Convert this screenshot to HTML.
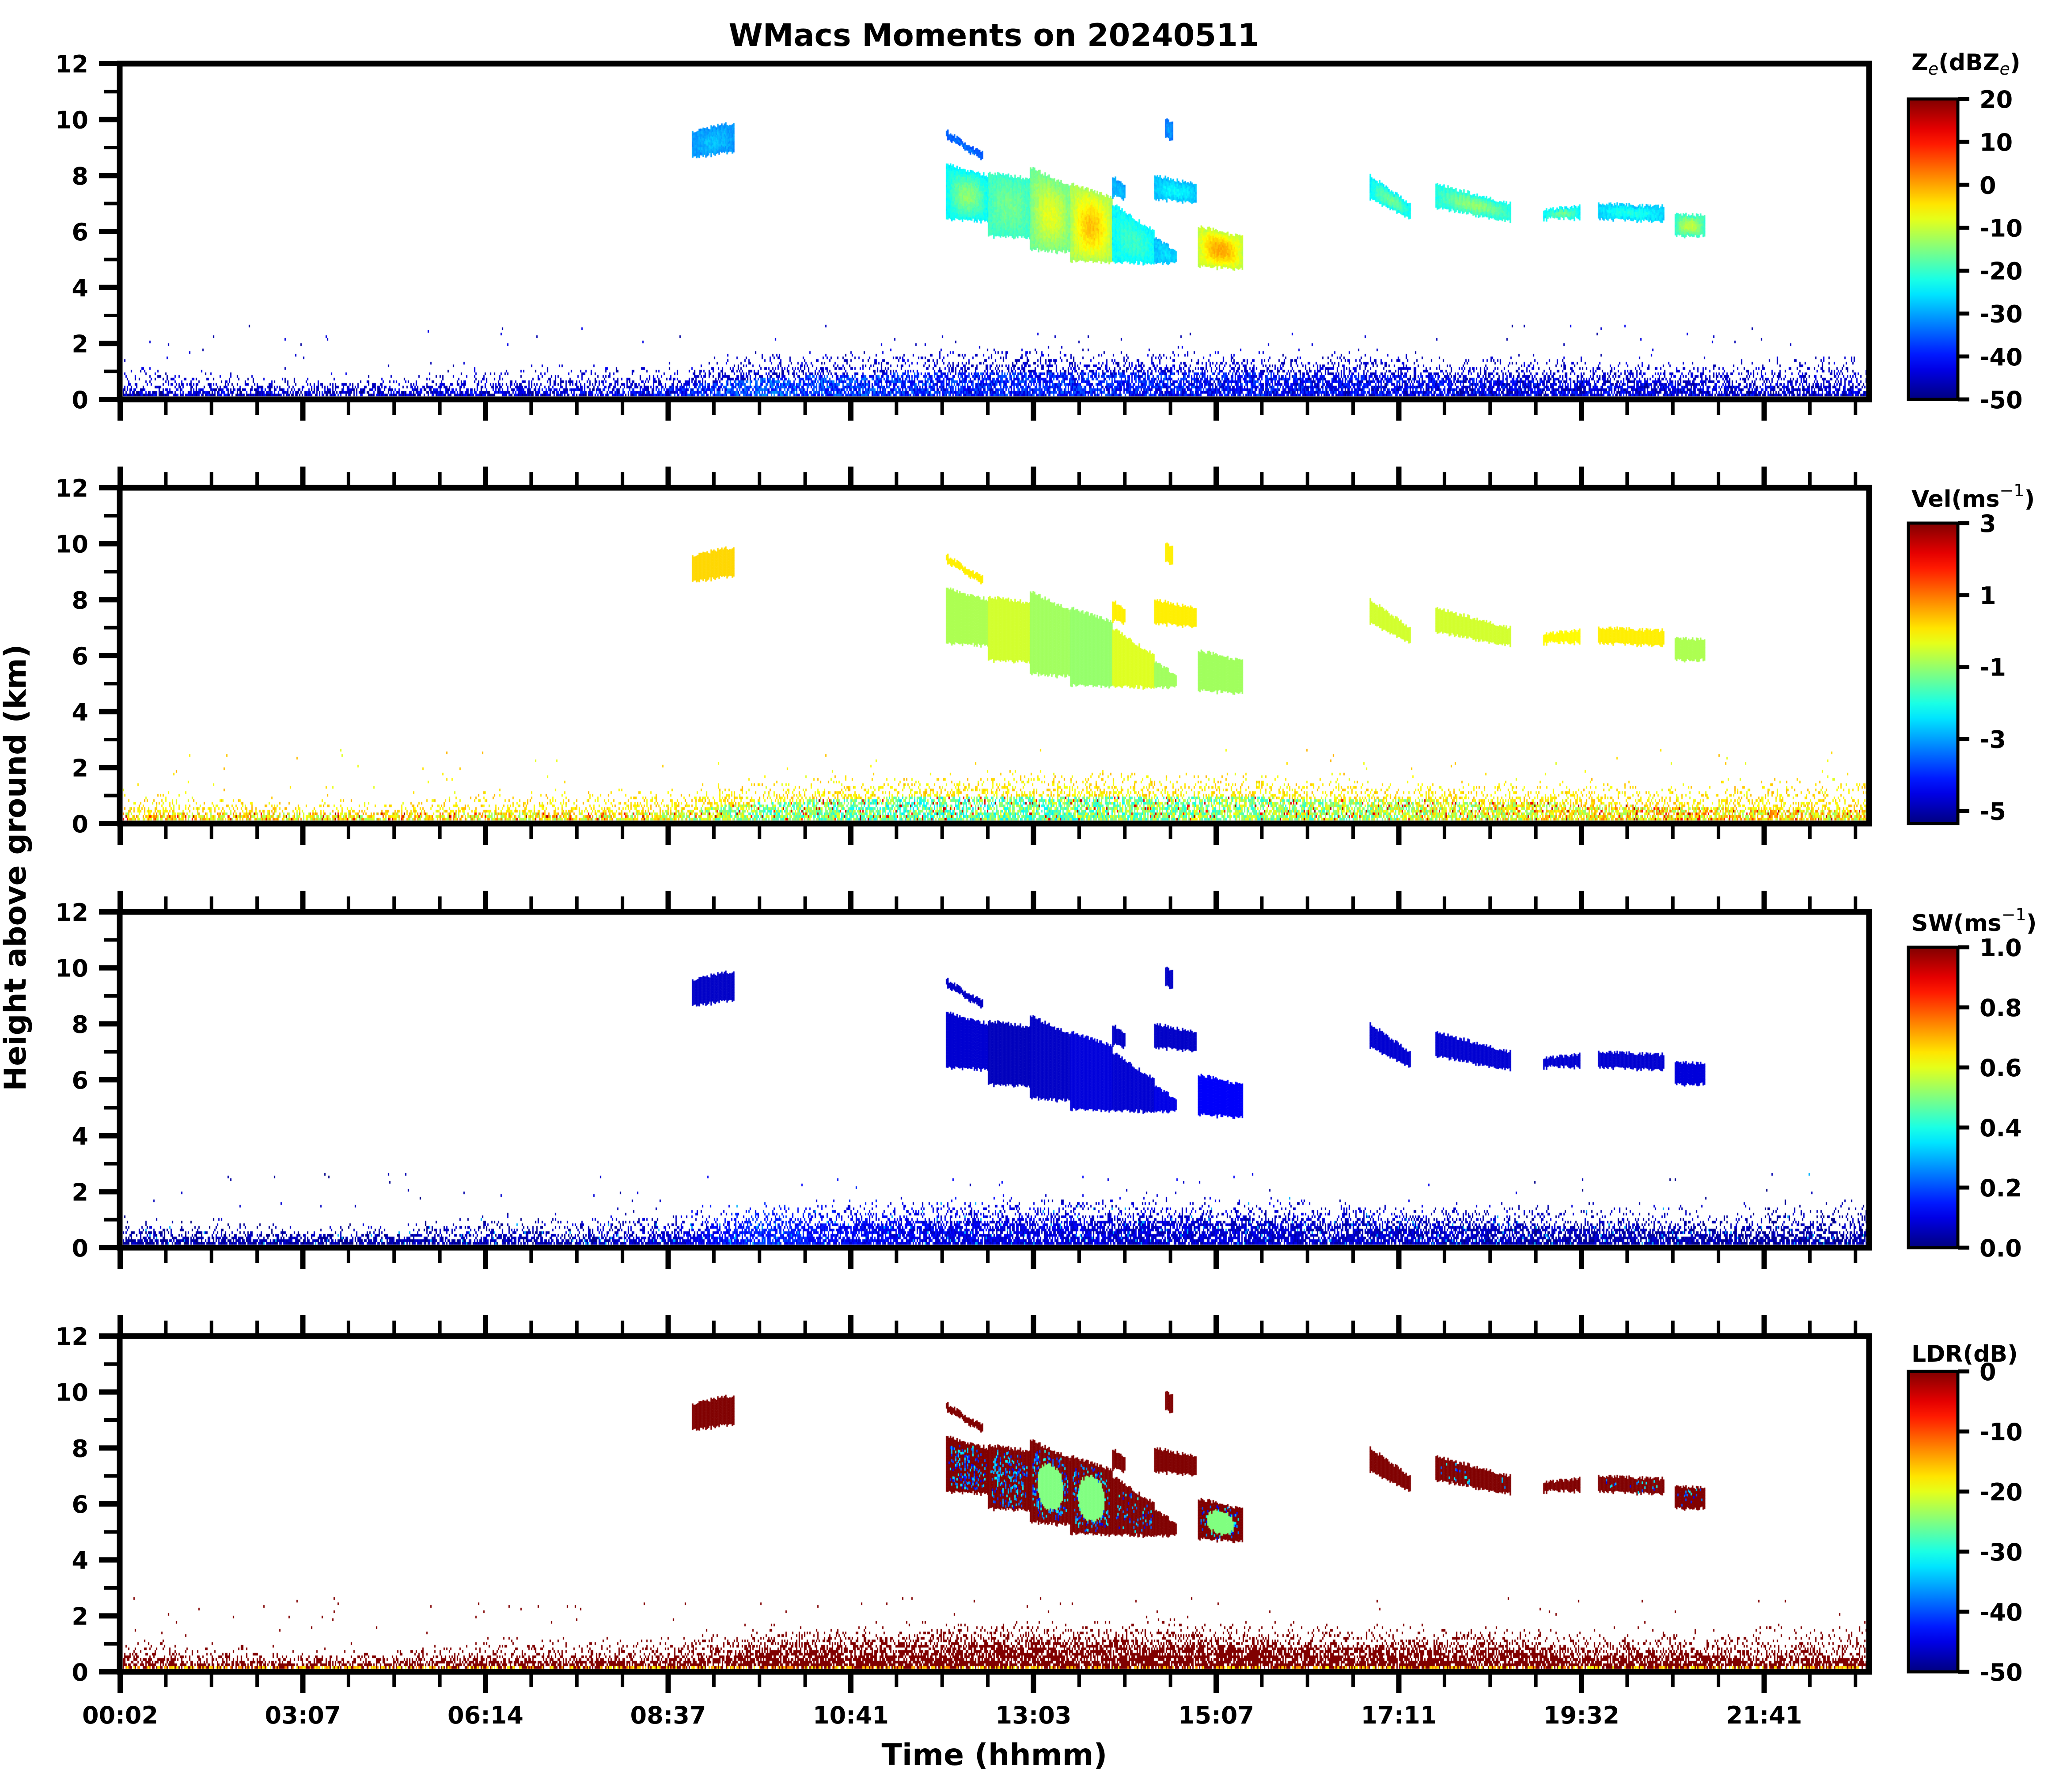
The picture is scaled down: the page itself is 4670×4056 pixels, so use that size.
<!DOCTYPE html>
<html>
<head>
<meta charset="utf-8">
<style>
html,body{margin:0;padding:0;background:#fff;}
#wrap{position:relative;width:4670px;height:4056px;overflow:hidden;background:#fff;}
#heat{position:absolute;left:0;top:0;}
#ov{position:absolute;left:0;top:0;}
text{font-family:"DejaVu Sans","Liberation Sans",sans-serif;font-weight:bold;fill:#000;}
</style>
</head>
<body>
<div id="wrap">
<canvas id="heat" width="4670" height="4056"></canvas>
<svg id="ov" width="4670" height="4056" xmlns="http://www.w3.org/2000/svg"></svg>
</div>
<script>
// ---------- data ----------
const timeTickLabels = ["00:02","03:07","06:14","08:37","10:41","13:03","15:07","17:11","19:32","21:41"];
const heightTicks = [0,2,4,6,8,10,12];
const panelTitles = ["Z<sub>e</sub>(dBZ<sub>e</sub>)","Vel(ms<sup>-1</sup>)","SW(ms<sup>-1</sup>)","LDR(dB)"];
const cbarTicks0 = [20,10,0,-10,-20,-30,-40,-50];
const cbarTicks1 = [3,1,-1,-3,-5];
const cbarTicks2 = ["1.0","0.8","0.6","0.4","0.2","0.0"];
const cbarTicks3 = [0,-10,-20,-30,-40,-50];
const cbarMin = [-50,-5.35,0,-50];
const cbarMax = [20,3,1,0];
// Cloud features: x in thousands of profiles, height in km
const cloudU0   = [3.13,4.52,4.52,4.75,4.98,5.20,5.43,5.66,5.66,5.43,5.90,5.72,6.84,7.20,7.79,8.09,8.51];
const cloudU1   = [3.36,4.72,4.75,4.98,5.20,5.43,5.66,5.78,5.89,5.50,6.14,5.76,7.06,7.61,7.99,8.45,8.67];
const cloudTop0 = [9.6,9.6,8.4,8.1,8.3,7.7,7.0,5.8,8.0,8.0,6.2,10.0,8.0,7.7,6.8,7.0,6.6];
const cloudTop1 = [9.9,8.8,8.0,7.9,7.6,7.2,6.0,5.3,7.7,7.6,5.8,9.9,7.0,7.0,6.9,6.9,6.6];
const cloudBot0 = [8.7,9.4,6.5,5.9,5.4,5.0,4.95,4.95,7.2,7.3,4.8,9.4,7.2,6.9,6.5,6.5,5.9];
const cloudBot1 = [8.9,8.6,6.4,5.8,5.3,4.95,4.9,4.9,7.1,7.2,4.7,9.3,6.5,6.4,6.5,6.4,5.9];
const cloudZe    = [-31,-35,-24,-20,-16,-12,-24,-28,-28,-30,-10,-33,-24,-22,-24,-27,-20];
const cloudZeCore= [-28,-33,-14,-16,-8,-2,-20,-26,-24,-28,0,-30,-16,-14,-16,-22,-10];
const cloudVel   = [0.2,0.0,-0.8,-0.5,-0.9,-1.0,-0.4,-0.9,0.0,0.0,-0.9,0.0,-0.5,-0.5,-0.1,0.0,-0.8];
const cloudSw    = [0.07,0.07,0.08,0.06,0.07,0.09,0.08,0.1,0.07,0.07,0.12,0.07,0.08,0.08,0.08,0.08,0.09];
const cloudLdr   = [0,0,0,0,0,0,0,0,0,0,0,0,0,0,0,0,0];
const cloudLdrCore=[0,0,0,0,-25,-25,0,0,0,0,-25,0,0,0,0,0,0];
const cloudLdrSpeckle=[0,0,0.3,0.3,0.35,0.3,0.15,0,0,0,0.2,0,0,0.05,0,0.1,0.2];
// Boundary layer (sampled every 0.5 thousand profiles, 0..9.5)
const blDense  = [0.3,0.3,0.3,0.3,0.3,0.35,0.4,0.7,0.85,0.9,0.95,0.95,0.9,0.85,0.8,0.75,0.65,0.55,0.45,0.4];
const blSparse = [1.2,1.0,0.8,0.8,1.2,1.2,1.3,1.7,1.7,1.8,1.9,1.9,1.8,1.8,1.7,1.6,1.6,1.5,1.6,1.8];
const blZe     = [-45,-45,-45,-45,-45,-44,-42,-36,-38,-40,-40,-40,-41,-42,-43,-43,-44,-44,-45,-45];
const blVel    = [0.1,0.1,0.1,0.1,0.0,0.0,-0.3,-1.0,-1.3,-1.4,-1.3,-1.1,-1.0,-0.8,-0.6,-0.3,0.0,0.1,0.1,0.1];
const blSw     = [0.04,0.04,0.04,0.04,0.05,0.05,0.07,0.16,0.12,0.1,0.09,0.08,0.08,0.07,0.07,0.06,0.05,0.05,0.04,0.04];
const blLdr    = [0,0,0,0,0,0,0,0,0,0,0,0,0,0,0,0,0,0,0,0];

// ---------- geometry ----------
const X0 = 272, PXU = 413.5, XL = 271, XR = 4231;
const PT = [144,1104,2064,3024], PH = 760, KM = PH/12;
const CBX0 = 4320, CBX1 = 4432, CBOFF = 80, CBH = 680;
const titleY = [159,1147,2107,3082];
function xs(u){return X0 + u*PXU;}
function ys(p,h){return PT[p]+PH - h*KM;}

function jet(t){
  t = Math.max(0,Math.min(1,t));
  const c=v=>Math.round(255*Math.max(0,Math.min(1,v)));
  return [c(1.5-Math.abs(4*t-3)), c(1.5-Math.abs(4*t-2)), c(1.5-Math.abs(4*t-1))];
}
function col(p,v){const a=jet((v-cbarMin[p])/(cbarMax[p]-cbarMin[p]));return "rgb("+a[0]+","+a[1]+","+a[2]+")";}
function hash(a,b){let h=(a*374761393 + b*668265263)|0; h=(h^(h>>>13))*1274126177|0; h=h^(h>>>16); return ((h>>>0)%10000)/10000;}
function interp(arr,u){const i=u/0.5;const i0=Math.max(0,Math.min(arr.length-1,Math.floor(i)));const i1=Math.min(arr.length-1,i0+1);const f=Math.max(0,Math.min(1,i-i0));return arr[i0]*(1-f)+arr[i1]*f;}

// ---------- heatmaps ----------
const ctx = document.getElementById('heat').getContext('2d');
const blArrays = [blZe, blVel, blSw, blLdr];
const blJit = [6, 1.2, 0.05, 0];
const cloudVals = [cloudZe, cloudVel, cloudSw, cloudLdr];
const cloudCores = [cloudZeCore, cloudVel, cloudSw, cloudLdrCore];
const CW = 3, CH = 6;
for (let p=0;p<4;p++){
  const bot = PT[p]+PH-7;
  for (let x=XL+7; x<XR-7; x+=CW){
    const u=(x-X0)/PXU, ci=Math.round(x/CW);
    const dense=interp(blDense,u), sparse=interp(blSparse,u);
    const base=interp(blArrays[p],u);
    for (let y=bot; y>ys(p,2.6); y-=CH){
      const h=(PT[p]+PH-y)/KM, ri=Math.round(y/CH);
      let prob;
      if (h<dense) prob=0.9-0.3*(h/dense);
      else if (h<sparse) prob=0.45*Math.pow(1-(h-dense)/(sparse-dense),1.6)+0.02;
      else prob=0.004;
      if (hash(ci,ri) < prob){
        const r=hash(ci+999,ri+p);
        let v = base + (r-0.5)*2*blJit[p];
        if (p===1){
          if (h>dense) v = -0.4 + hash(ci,y)*0.9;
          else if (r>0.93) v = 1.6 + hash(ci,y)*1.2;
        }
        if (p===2 && r>0.97) v = 0.3;
        if (p===3){ v = 0; if (h<0.15 && r<0.5) v = -12 - hash(ci,y)*8; }
        if (p===0 && h>dense) v = -42 - hash(ci,y)*6;
        ctx.fillStyle = col(p,v);
        ctx.fillRect(x, y-CH, CW, CH);
      }
    }
  }
  for (let k=0;k<cloudU0.length;k++){
    const x0=xs(cloudU0[k]), x1=xs(cloudU1[k]);
    for (let x=x0; x<x1; x+=CW){
      const f=(x-x0)/Math.max(1,(x1-x0)), ci=Math.round(x/CW);
      const top=cloudTop0[k]+(cloudTop1[k]-cloudTop0[k])*f + (hash(ci,k)-0.5)*0.15;
      const bt=cloudBot0[k]+(cloudBot1[k]-cloudBot0[k])*f + (hash(ci,k+50)-0.5)*0.1;
      const yT=ys(p,top), yB=ys(p,bt);
      for (let y=yT; y<yB; y+=CH){
        const g=(y-yT)/Math.max(1,(yB-yT));
        const w=Math.sin(Math.PI*g)*Math.sin(Math.PI*Math.min(1,Math.max(0,f)));
        let v;
        if (p===3){
          v = 0;
          if (cloudLdrCore[k]<0 && w>0.55) v = cloudLdrCore[k];
          else if (w>0.15 && hash(ci,Math.round(y))<cloudLdrSpeckle[k]) v = -30 - hash(ci+5,Math.round(y))*15;
        } else {
          v=cloudVals[p][k]+(cloudCores[p][k]-cloudVals[p][k])*w;
          if (p===0) v += (hash(ci,Math.round(y))-0.5)*3;
        }
        ctx.fillStyle=col(p,v);
        ctx.fillRect(x,y,CW+0.5,CH+0.5);
      }
    }
  }
}

// ---------- SVG overlay ----------
const NS="http://www.w3.org/2000/svg";
const svg=document.getElementById('ov');
function el(tag,attrs,parent){const e=document.createElementNS(NS,tag);for(const k in attrs)e.setAttribute(k,attrs[k]);(parent||svg).appendChild(e);return e;}
function line(x1,y1,x2,y2,w,parent){return el('line',{x1:x1,y1:y1,x2:x2,y2:y2,stroke:'#000','stroke-width':w},parent);}

const defs=el('defs',{});
const grad=el('linearGradient',{id:'jetg',x1:0,y1:1,x2:0,y2:0},defs);
for(let i=0;i<=20;i++){const c=jet(i/20);el('stop',{offset:(i*5)+'%','stop-color':'rgb('+c+')'},grad);}

const cbTickSets=[cbarTicks0,cbarTicks1,cbarTicks2,cbarTicks3];
const pnames=['reflectivity','velocity','spectral-width','ldr'];
for (let p=0;p<4;p++){
  const g=el('g',{});
  
  
  const T=PT[p], B=T+PH;
  for (let h=0;h<=12;h++){
    const major=h%2===0, y=ys(p,h);
    const t=line(XL-(major?47:35),y,XL,y,major?12:8,g);
    
    
  }
  for (const h of heightTicks){
    const t=el('text',{x:200,y:ys(p,h)+20,'font-size':54,'text-anchor':'end'},g);
    t.textContent=h;
    
    
  }
  for (let q=0;q<=38;q++){
    const u=q*0.25, x=xs(u); if(x>XR-6) break;
    const major=q%4===0, L=major?48:35, w=major?12:8;
    const t=line(x,B,x,B+L,w,g);
    
    
    if (p>0){
      const t2=line(x,T-L,x,T,w,g);
      
      
    }
  }
  if (p===3){
    timeTickLabels.forEach((s,i)=>{
      const t=el('text',{x:xs(i),y:3901,'font-size':54,'text-anchor':'middle'},g);
      t.textContent=s;
      
      
    });
  }
  const fr=el('rect',{x:XL,y:T,width:XR-XL,height:PH,fill:'none',stroke:'#000','stroke-width':13},g);
  
  
  const cy0=T+CBOFF, cy1=cy0+CBH;
  const cb=el('rect',{x:CBX0,y:cy0,width:CBX1-CBX0,height:CBH,fill:'url(#jetg)',stroke:'#000','stroke-width':7},g);
  
  
  cbTickSets[p].forEach(v=>{
    const val=parseFloat(v);
    const y=cy1-(val-cbarMin[p])/(cbarMax[p]-cbarMin[p])*CBH;
    const t=line(CBX1,y,CBX1+26,y,9,g);
    
    
    const tx=el('text',{x:4481,y:y+20,'font-size':54},g);
    tx.textContent=(typeof v==='number' && v<0)?('-'+Math.abs(v)):v;
    
    
  });
  const tt=el('text',{x:4327,y:titleY[p],'font-size':52},g);
  
  
  const parts=panelTitles[p].split(/(<sub>.*?<\/sub>|<sup>.*?<\/sup>)/);
  parts.forEach(s=>{
    if(!s) return;
    const ts=el('tspan',{},tt);
    if(s.startsWith('<sub>')){ts.textContent=s.slice(5,-6);ts.setAttribute('font-size',38);ts.setAttribute('font-weight','normal');ts.setAttribute('font-style','italic');ts.setAttribute('dy',10);}
    else if(s.startsWith('<sup>')){ts.textContent=s.slice(5,-6).replace('-','\u2212');ts.setAttribute('font-size',38);ts.setAttribute('font-weight','normal');ts.setAttribute('dy',-24);}
    else {ts.textContent=s; if(tt.childNodes.length>1){const prev=tt.childNodes[tt.childNodes.length-2];const d=prev.getAttribute('dy');if(d)ts.setAttribute('dy',-parseFloat(d));}}
  });
}
const title=el('text',{x:2250,y:104,'font-size':70,'text-anchor':'middle'});
title.textContent='WMacs Moments on 20240511';


const xl=el('text',{x:2251,y:3995,'font-size':68,'text-anchor':'middle'});
xl.textContent='Time (hhmm)';


const yl=el('text',{x:0,y:0,'font-size':68,'text-anchor':'middle',transform:'translate(58,1964) rotate(-90)'});
yl.textContent='Height above ground (km)';


</script>
</body>
</html>
